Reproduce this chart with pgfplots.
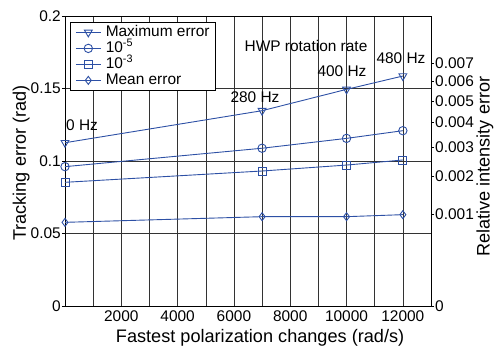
\documentclass[border=0pt]{standalone}
\usepackage{fontspec}
\setmainfont{Liberation Sans}
\usepackage{pgfplots}
\pgfplotsset{compat=1.18}
\definecolor{lb}{RGB}{45,80,165}
\begin{document}
\begin{tikzpicture}
\useasboundingbox (-65bp,-41bp) rectangle (429bp,306bp);
\begin{axis}[
  scale only axis, width=366bp, height=290bp,
  xmin=0, xmax=13000, ymin=0, ymax=0.2,
  scaled x ticks=false, scaled y ticks=false,
  xtick={1000,2000,...,12000},
  xticklabels={,2000,,4000,,6000,,8000,,10000,,12000},
  ytick={0,0.05,0.1,0.15,0.2},
  yticklabels={0,0.05,0.1,0.15,0.2},
  xtick pos=left, ytick pos=left,
  tick align=outside, major tick length=3bp,
  xtick style={draw=none},
  grid=major, grid style={black!80, line width=0.5bp},
  axis line style={black, line width=0.8bp},
  tick style={black, line width=0.6bp},
  /pgf/number format/assume math mode=true,
  tick label style={font=\fontsize{15.5}{18}\selectfont},
  yticklabel style={inner sep=1bp},
  xticklabel style={inner sep=2bp},
  label style={font=\fontsize{18.2}{22}\selectfont},
  xlabel={Fastest polarization changes (rad/s)},
  ylabel={Tracking error (rad)},
  xlabel style={at={(axis description cs:0.533,-0.109)}, anchor=center},
  ylabel style={at={(axis description cs:-0.12,0.493)}, anchor=center},
  legend cell align=left,
  legend style={at={(axis description cs:0.0137,0.980)}, anchor=north west,
    font=\fontsize{15.5}{15.5}\selectfont, draw=black, line width=0.7bp,
    inner xsep=5bp, inner ysep=2.5bp, row sep=0.5bp, column sep=4bp,
    nodes={inner sep=0.5bp, text height=11bp, text depth=3.5bp},
    fill=white},
  legend image code/.code={\draw[mark repeat=2,mark phase=2] plot coordinates {(0bp,0bp) (12.5bp,0bp) (25bp,0bp)};},
]
\addplot[lb, line width=0.9bp, mark=triangle, mark size=4.5bp, mark options={rotate=180, fill=white, solid}]
  coordinates {(0,0.1126) (7000,0.1347) (10000,0.1494) (12000,0.1586)};
\addlegendentry{Maximum error}
\addplot[lb, line width=0.9bp, mark=o, mark size=4.2bp, mark options={fill=white, solid}]
  coordinates {(0,0.0961) (7000,0.1088) (10000,0.1156) (12000,0.1209)};
\addlegendentry{10\textsuperscript{-5}}
\addplot[lb, line width=0.9bp, mark=square, mark size=4bp, mark options={fill=white, solid}]
  coordinates {(0,0.0853) (7000,0.0931) (10000,0.0972) (12000,0.1007)};
\addlegendentry{10\textsuperscript{-3}}
\addplot[lb, line width=0.9bp, mark=diamond, mark size=4bp, mark options={fill=white, solid}]
  coordinates {(0,0.0577) (7000,0.0616) (10000,0.0616) (12000,0.0630)};
\addlegendentry{Mean error}
\node[font=\fontsize{15.5}{18}\selectfont, anchor=west, inner sep=0pt] at (axis cs:36,0.1248) {0 Hz};
\node[font=\fontsize{15.5}{18}\selectfont, inner sep=0pt] at (axis cs:6749,0.1441) {280 Hz};
\node[font=\fontsize{15.5}{18}\selectfont, inner sep=0pt] at (axis cs:9839,0.1621) {400 Hz};
\node[font=\fontsize{15.5}{18}\selectfont, inner sep=0pt] at (axis cs:11934,0.1710) {480 Hz};
\node[font=\fontsize{15.5}{18}\selectfont, inner sep=0pt] at (axis cs:8560,0.1793) {HWP rotation rate};
\end{axis}
\begin{axis}[
  scale only axis, width=366bp, height=290bp,
  xmin=0, xmax=13000, ymin=0, ymax=0.2,
  scaled x ticks=false, scaled y ticks=false,
  hide x axis, xtick=\empty, axis y line*=right,
  y axis line style={-, black, line width=0.8bp},
  ytick={0,0.063246,0.089443,0.109545,0.126491,0.141421,0.154919,0.167332},
  yticklabels={0,0.001,0.002,0.003,0.004,0.005,0.006,0.007},
  tick align=outside, major tick length=3bp,
  tick style={black, line width=0.6bp},
  tick label style={font=\fontsize{15.5}{18}\selectfont},
  yticklabel style={inner sep=1bp},
  ylabel={Relative intensity error},
  ylabel style={font=\fontsize{18.2}{22}\selectfont, at={(axis description cs:1.1475,0.48)}, anchor=center},
]
\addplot[draw=none] coordinates {(0,0)};
\end{axis}
\end{tikzpicture}
\end{document}
